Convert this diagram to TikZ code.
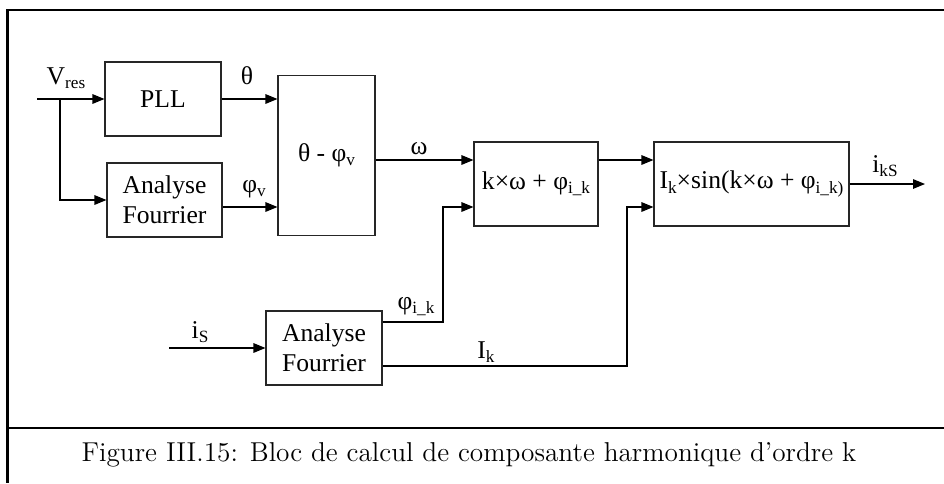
\documentclass[tikz,border=0pt]{standalone}
\usepackage{fontspec}
\newfontfamily\timesfont{Liberation Serif}
\usetikzlibrary{arrows.meta,positioning}
\newcommand{\lowidx}[1]{\raisebox{-0.35ex}{\fontsize{8.6}{10}\selectfont #1}}
\tikzset{
  blockbox/.style={draw=black!85,line width=0.55pt,align=center,inner sep=0pt,font=\timesfont\fontsize{12.8}{15}\selectfont},
  sig/.style={-{Triangle[length=6pt,width=4.8pt]},line width=0.55pt},
  sigtext/.style={inner sep=0pt,font=\timesfont\fontsize{12.8}{15}\selectfont},
  frameline/.style={line width=1.25pt}
}

\begin{document}
\begin{tikzpicture}[x=0.5pt,y=-0.5pt]
    \useasboundingbox (0,0) rectangle (944,483);
    \draw[frameline] (944,10) -- (7.5,10) -- (7.5,483);
    \draw[frameline] (7.5,428) -- (944,428);
    \foreach \n/\x/\y/\w/\h/\t in {
      pll/163/99/116/74/PLL,
      af1/164.5/200/115/74/Analyse\\Fourrier,
      diff/326.5/155.5/97/160/θ - φ\lowidx{v},
      kw/536/184/124/84/k×ω + φ\lowidx{i\_k},
      sinb/751.5/184/195/84/I\lowidx{k}×sin(k×ω + φ\lowidx{i\_k)},
      af2/324/348/116/74/Analyse\\Fourrier}
    {
      \node[blockbox,minimum width=\w*0.5pt,minimum height=\h*0.5pt] (\n) at (\x,\y) {\t};
    }
    \coordinate (vin) at (37,99);
    \coordinate (vbr) at (60,99);
    \coordinate (isin) at (169,348);
    \coordinate (ikout) at (925,184);
    \draw[sig] (vin) -- (pll.west);
    \draw[sig] (vbr) |- (af1.west);
    \draw[sig] (pll.east) -- (pll.east -| diff.west);
    \draw[sig] (af1.east |- 0,207) -- (diff.west |- 0,207);
    \draw[sig] (diff.east |- 0,160) -- (kw.west |- 0,160);
    \draw[sig] (kw.east |- 0,160) -- (sinb.west |- 0,160);
    \draw[sig] (sinb.east) -- (ikout);
    \draw[sig] (isin) -- (af2.west);
    \draw[sig] (af2.east |- 0,322) -- (443,322) |- (kw.west |- 0,207);
    \draw[sig] (af2.east |- 0,366) -- (627,366) |- (sinb.west |- 0,207);
    \node[sigtext] (vres) at (66,78) {V\lowidx{res}};
    \node[sigtext] (theta) at (247,76) {θ};
    \node[sigtext] (phiv) at (254,189) {φ\lowidx{v}};
    \node[sigtext] (omega) at (419,149) {ω};
    \node[sigtext] (iks) at (885,166) {i\lowidx{kS}};
    \node[sigtext] (is) at (200,332) {i\lowidx{S}};
    \node[sigtext] (phiik) at (416,307) {φ\lowidx{i\_k}};
    \node[sigtext] (ik) at (486,352) {I\lowidx{k}};
    \node[font=\fontsize{13.65}{15}\selectfont,inner sep=0pt] (caption) at (469,455) {Figure III.15: Bloc de calcul de composante harmonique d’ordre k};
  \end{tikzpicture}
\end{document}
